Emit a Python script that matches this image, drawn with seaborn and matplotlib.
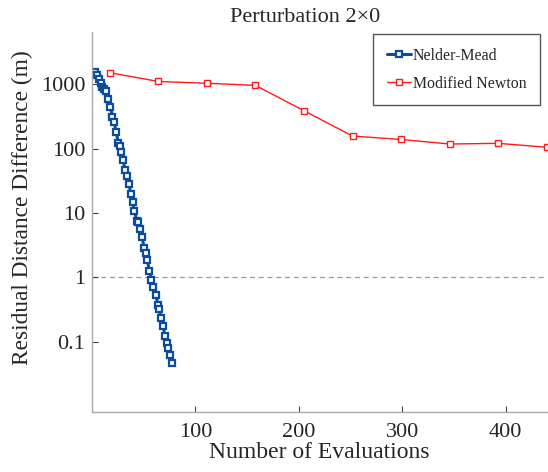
import pandas as pd
import seaborn as sns
import matplotlib.pyplot as plt
from matplotlib.ticker import FixedLocator, NullLocator

nm_evals = [3.1, 5.0, 6.6, 8.2, 9.8, 11.4, 13.7, 15.6, 17.8, 19.7, 21.4, 23.3, 25.5, 26.8,
            27.7, 30.1, 32.0, 34.2, 35.8, 37.4, 39.3, 40.9, 43.2, 44.5, 46.0, 48.4, 50.3,
            52.2, 53.5, 55.4, 57.3, 59.2, 61.8, 63.8, 65.0, 66.7, 68.6, 70.5, 72.4, 73.7,
            75.6, 77.6]
nm_resid = [1550, 1380, 1200, 1040, 920, 835, 795, 600, 440, 313, 256, 181, 124, 111,
            88, 66, 46.5, 38, 28.7, 19.6, 14.7, 10.7, 7.6, 7.2, 5.6, 4.25, 2.9,
            2.4, 1.87, 1.25, 0.91, 0.71, 0.53, 0.37, 0.32, 0.23, 0.175, 0.123, 0.095, 0.079,
            0.061, 0.047]

mn_evals = [17, 64, 111, 158, 205, 252, 299, 346, 393, 440]
mn_resid = [1520, 1110, 1040, 965, 389, 157, 139, 118, 121, 105]

yticks = [0.1, 1, 10, 100, 1000]
ytick_labels = ["0.1", "1", "10", "100", "1000"]
xticks = [100, 200, 300, 400]

nm = pd.DataFrame({"Evaluations": nm_evals, "Residual": nm_resid})
mn = pd.DataFrame({"Evaluations": mn_evals, "Residual": mn_resid})

sns.set_theme(style="white")
plt.rcParams["font.family"] = ["Liberation Serif", "DejaVu Serif"]
plt.rcParams["text.color"] = "#262626"
plt.rcParams["axes.labelcolor"] = "#262626"

fig = plt.figure(figsize=(5.48, 4.72), dpi=100)
ax = fig.add_axes([0.168, 0.127, 0.830, 0.805])

sns.lineplot(x="Evaluations", y="Residual", data=nm, ax=ax, color="#0b4c9e",
             linewidth=2.2, marker="s", markersize=4.2, markerfacecolor="white",
             markeredgecolor="#0b4c9e", markeredgewidth=1.6, label="Nelder-Mead")
sns.lineplot(x="Evaluations", y="Residual", data=mn, ax=ax, color="#ff1a1a",
             linewidth=1.0, marker="s", markersize=4.5, markerfacecolor="white",
             markeredgecolor="#ff1a1a", markeredgewidth=1.0, label="Modified Newton")

ax.axhline(1, color="#999999", linestyle="--", linewidth=0.9, dashes=(4, 3), zorder=0)

ax.set_yscale("log")
ax.set_ylim(0.008, 6500)
ax.set_xlim(0, 440)
ax.yaxis.set_major_locator(FixedLocator(yticks))
ax.set_yticklabels(ytick_labels)
ax.yaxis.set_minor_locator(NullLocator())
ax.set_xticks(xticks)

ax.set_title("Perturbation 2×0", fontsize=16, pad=7, x=0.468)
ax.set_xlabel("Number of Evaluations", fontsize=17, labelpad=0)
ax.set_ylabel("Residual Distance Difference (m)", fontsize=16.8)
ax.yaxis.set_label_coords(-0.13, 0.537)
ax.tick_params(axis="both", direction="in", length=4, width=0.8, color="#444444",
               labelsize=16, labelcolor="#262626", bottom=True, left=True)
ax.tick_params(axis="x", pad=8)
ax.tick_params(axis="y", pad=5)

for side in ["top", "right"]:
    ax.spines[side].set_visible(False)
for side in ["left", "bottom"]:
    ax.spines[side].set_color("#aaaaaa")
    ax.spines[side].set_linewidth(1.0)

leg = ax.legend(loc="upper right", bbox_to_anchor=(0.99, 1.0), fontsize=11.4,
                handlelength=1.5, handletextpad=0.15, borderpad=0.85, labelspacing=0.75,
                fancybox=False, framealpha=1.0, borderaxespad=0.15)
leg.get_frame().set_edgecolor("#555555")
leg.get_frame().set_linewidth(1.0)

fig.savefig("out.png", dpi=100)
